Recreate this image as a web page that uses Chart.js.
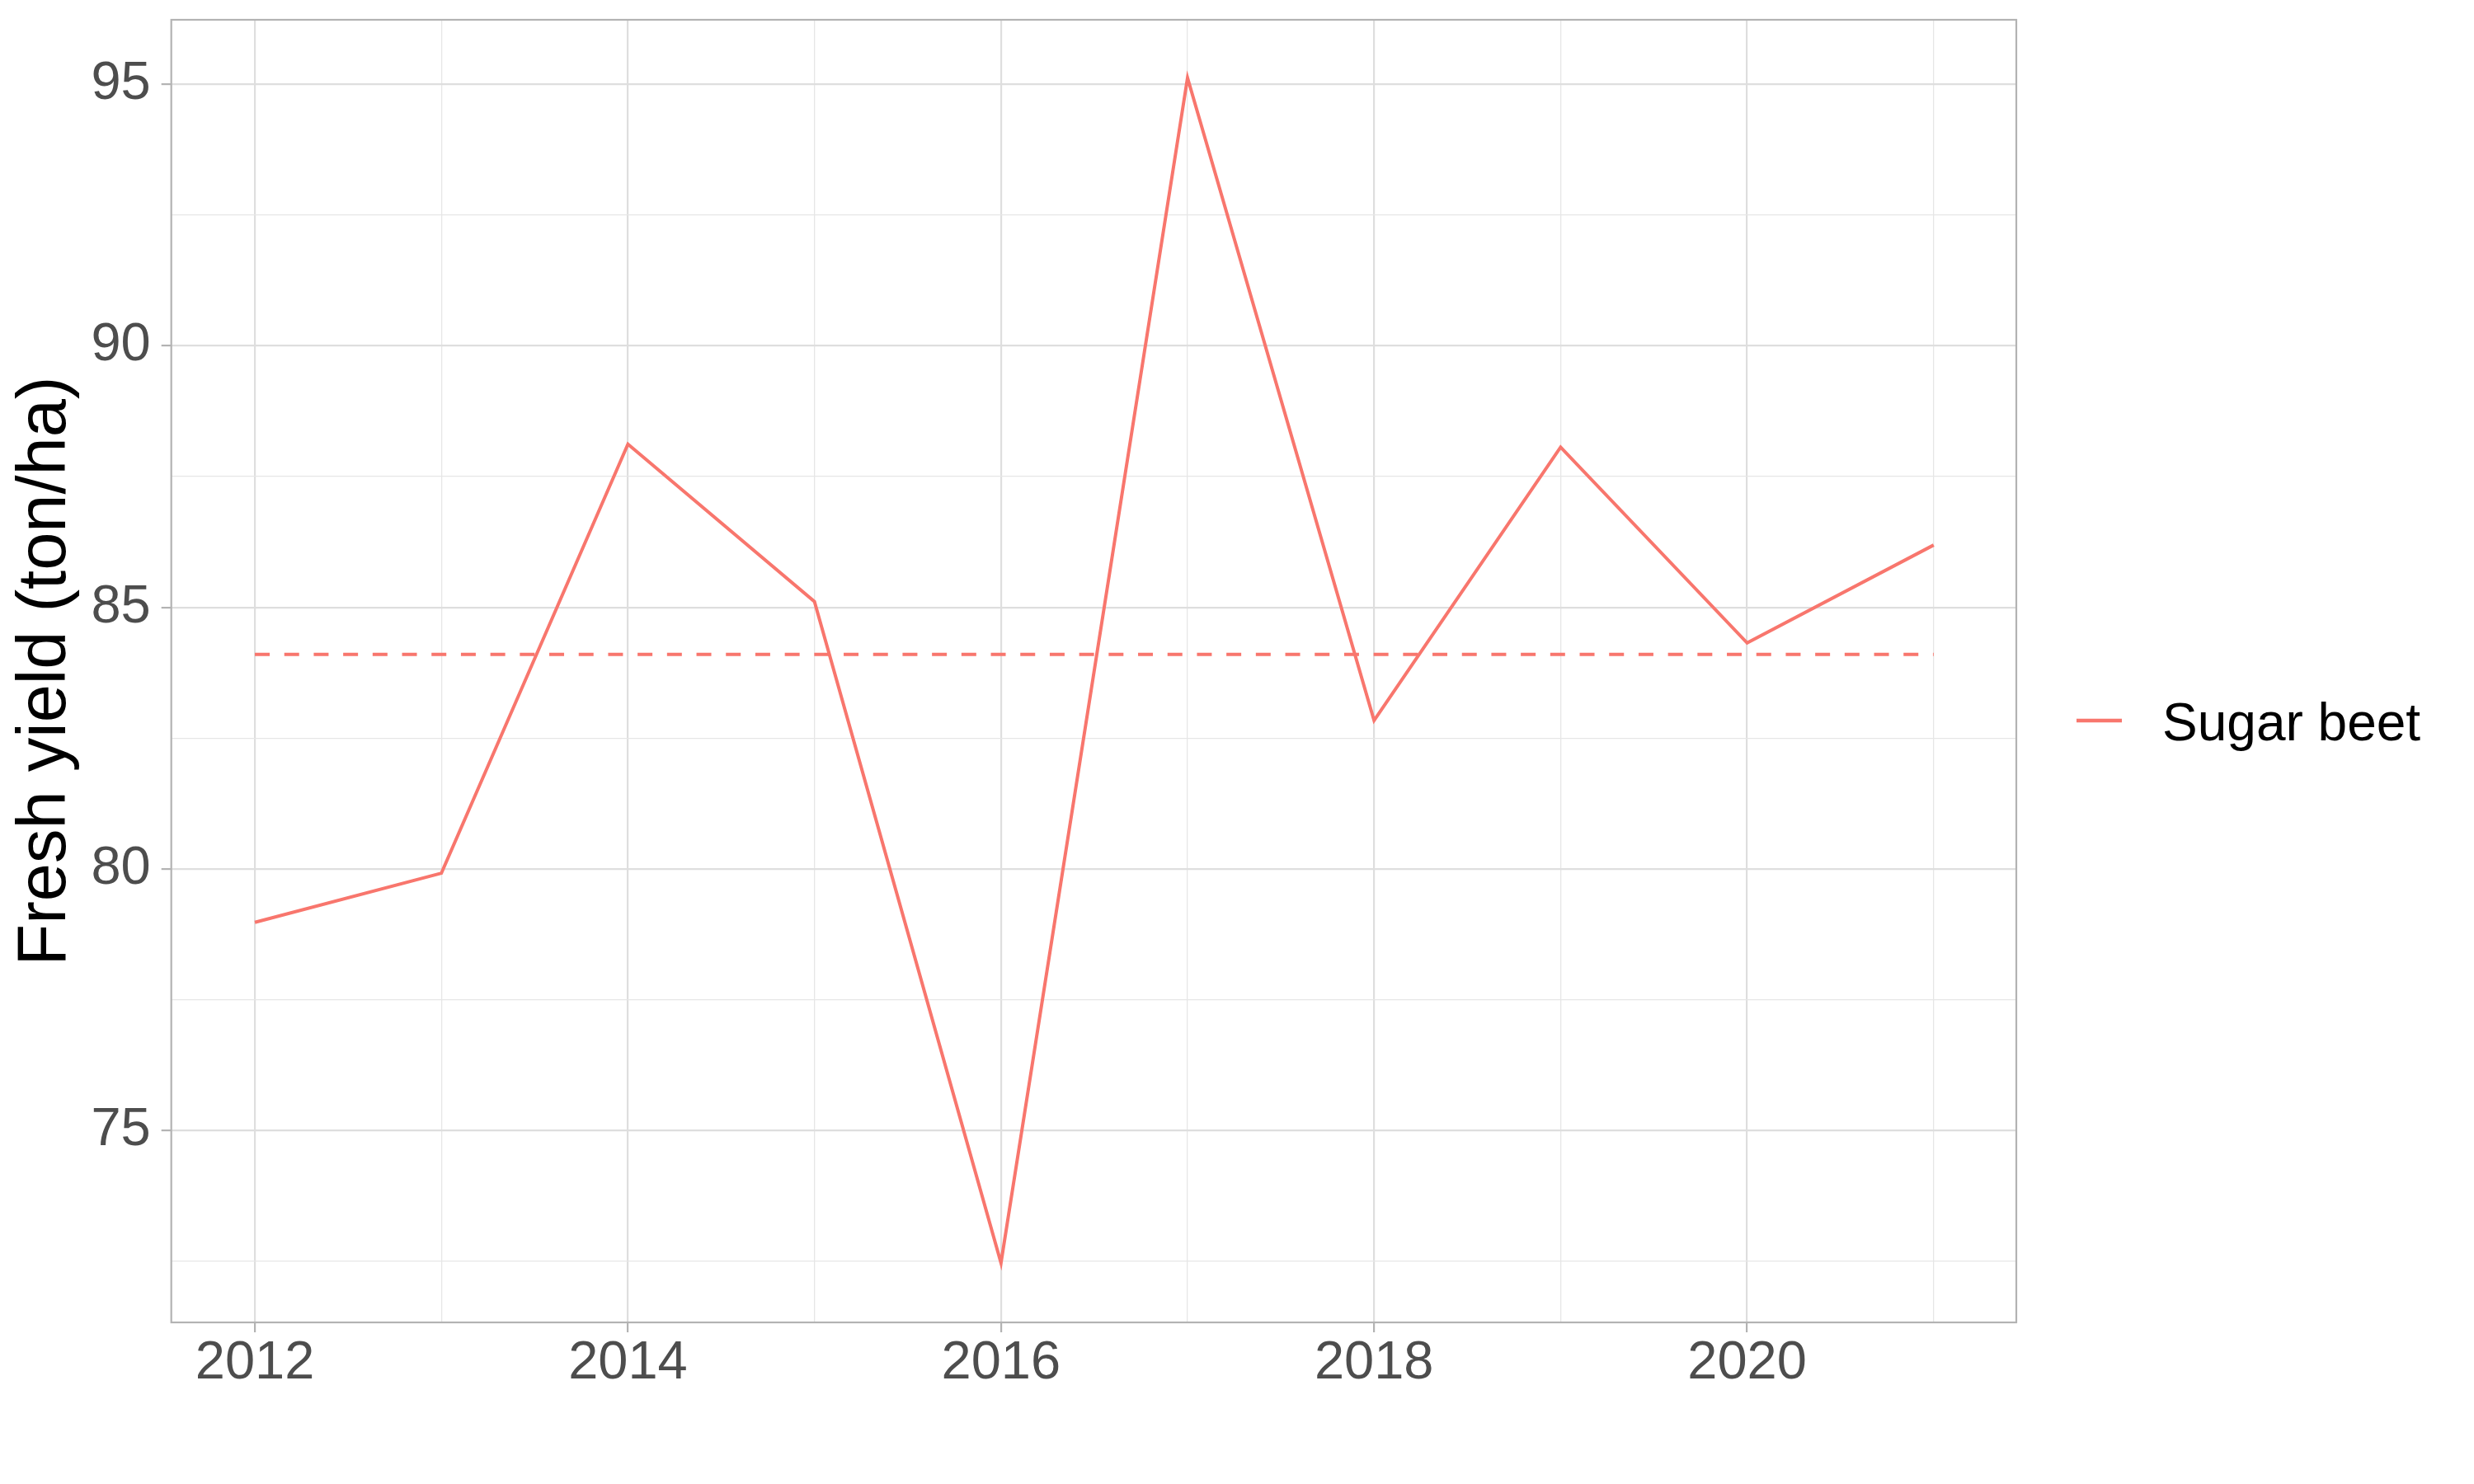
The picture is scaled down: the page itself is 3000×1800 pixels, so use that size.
<!DOCTYPE html>
<html>
<head>
<meta charset="utf-8">
<script src="https://cdn.jsdelivr.net/npm/chart.js@4"></script>
<style>
  html, body { margin: 0; padding: 0; background: #ffffff; }
  #wrap { width: 3000px; height: 1800px; }
</style>
</head>
<body>
<div id="wrap"><canvas id="myChart" width="3000" height="1800"></canvas></div>
<script>
// values
const years = [2012, 2013, 2014, 2015, 2016, 2017, 2018, 2019, 2020, 2021]
const sugarBeet = [78.98, 79.92, 88.12, 85.11, 72.47, 95.12, 82.84, 88.06, 84.32, 86.19]
const meanYield = 84.1
const seriesName = 'Sugar beet'
const yTitle = 'Fresh yield (ton/ha)'

// ticks: every value gets a grid line, labelled ones get text and a tick mark
const xTicks = [2012, 2013, 2014, 2015, 2016, 2017, 2018, 2019, 2020, 2021]
const xLabelTicks = [2012, 2014, 2016, 2018, 2020]
const yTicks = [72.5, 75, 77.5, 80, 82.5, 85, 87.5, 90, 92.5, 95]
const yLabelTicks = [75, 80, 85, 90, 95]

const lineColor = '#F8766D'
const fontFamily = "'Liberation Sans', Arial, sans-serif"

//panel box like ggplot theme_light
const panelBorder = {
    id: 'panelBorder',
    afterDatasetsDraw(chart) {
        const { ctx, chartArea: a } = chart
        ctx.save()
        ctx.strokeStyle = '#B3B3B3'
        ctx.lineWidth = 2.2
        ctx.strokeRect(a.left, a.top, a.right - a.left, a.bottom - a.top)
        ctx.restore()
    }
}

//legend on the right, only the real series
const sideLegend = {
    id: 'sideLegend',
    afterDraw(chart) {
        const { ctx } = chart
        const ds = chart.data.datasets[0]
        ctx.save()
        ctx.strokeStyle = ds.borderColor
        ctx.lineWidth = 4.5
        ctx.beginPath()
        ctx.moveTo(2518, 874)
        ctx.lineTo(2573, 874)
        ctx.stroke()
        ctx.fillStyle = '#000000'
        ctx.font = '64px ' + fontFamily
        ctx.textBaseline = 'alphabetic'
        ctx.textAlign = 'left'
        ctx.fillText(ds.label, 2622, 898)
        ctx.restore()
    }
}

function isLabelled(list, v) {
    return list.some(t => Math.abs(t - v) < 1e-6)
}

function configGraphAndRender() {
    const grafica = document.querySelector('#myChart')
    const data = {
        datasets: [{
            label: seriesName,
            data: years.map((y, i) => ({ x: y, y: sugarBeet[i] })),
            borderColor: lineColor,
            backgroundColor: lineColor,
            borderWidth: 4,
            pointRadius: 0,
            tension: 0
        }, {
            label: 'mean',
            data: years.map(y => ({ x: y, y: meanYield })),
            borderColor: lineColor,
            borderWidth: 4,
            borderDash: [18, 17.7],
            pointRadius: 0,
            tension: 0
        }]
    }
    const config = {
        type: 'line',
        data: data,
        options: {
            responsive: false,
            animation: false,
            devicePixelRatio: 1,
            layout: { padding: { top: 24, right: 555, left: 0, bottom: 0 } },
            plugins: {
                legend: { display: false },
                tooltip: { enabled: false }
            },
            scales: {
                x: {
                    type: 'linear',
                    min: 2011.552,
                    max: 2021.443,
                    afterBuildTicks: (scale) => { scale.ticks = xTicks.map(v => ({ value: v })) },
                    afterFit: (scale) => {
                        scale.height = 196
                        scale.paddingLeft = 0
                        scale.paddingRight = 0
                    },
                    border: { display: false },
                    grid: {
                        color: (c) => isLabelled(xLabelTicks, c.tick.value) ? '#DEDEDE' : '#E6E6E6',
                        lineWidth: (c) => isLabelled(xLabelTicks, c.tick.value) ? 2.2 : 1.3,
                        tickColor: (c) => isLabelled(xLabelTicks, c.tick.value) ? '#B3B3B3' : 'rgba(0,0,0,0)',
                        tickWidth: 2.2,
                        tickLength: 12
                    },
                    ticks: {
                        autoSkip: false,
                        maxRotation: 0,
                        padding: 6,
                        color: '#4D4D4D',
                        font: { family: fontFamily, size: 65, lineHeight: 1 },
                        callback: (v) => isLabelled(xLabelTicks, v) ? String(v) : ''
                    }
                },
                y: {
                    min: 71.334,
                    max: 96.229,
                    afterBuildTicks: (scale) => { scale.ticks = yTicks.map(v => ({ value: v })) },
                    afterFit: (scale) => {
                        scale.width = 207.7
                        scale.paddingTop = 0
                        scale.paddingBottom = 0
                    },
                    border: { display: false },
                    grid: {
                        color: (c) => isLabelled(yLabelTicks, c.tick.value) ? '#DEDEDE' : '#E6E6E6',
                        lineWidth: (c) => isLabelled(yLabelTicks, c.tick.value) ? 2.2 : 1.3,
                        tickColor: (c) => isLabelled(yLabelTicks, c.tick.value) ? '#B3B3B3' : 'rgba(0,0,0,0)',
                        tickWidth: 2.2,
                        tickLength: 12
                    },
                    ticks: {
                        autoSkip: false,
                        padding: 13,
                        color: '#4D4D4D',
                        font: { family: fontFamily, size: 65 },
                        callback: (v) => isLabelled(yLabelTicks, v) ? String(v) : ''
                    },
                    title: {
                        display: true,
                        text: yTitle,
                        color: '#000000',
                        padding: { top: 6, bottom: 0 },
                        font: { family: fontFamily, size: 83 }
                    }
                }
            }
        },
        plugins: [panelBorder, sideLegend]
    }
    const myChart = new Chart(grafica, config)
    myChart.render()
}

document.addEventListener('DOMContentLoaded', (event) => {
    configGraphAndRender();
});
</script>
</body>
</html>
